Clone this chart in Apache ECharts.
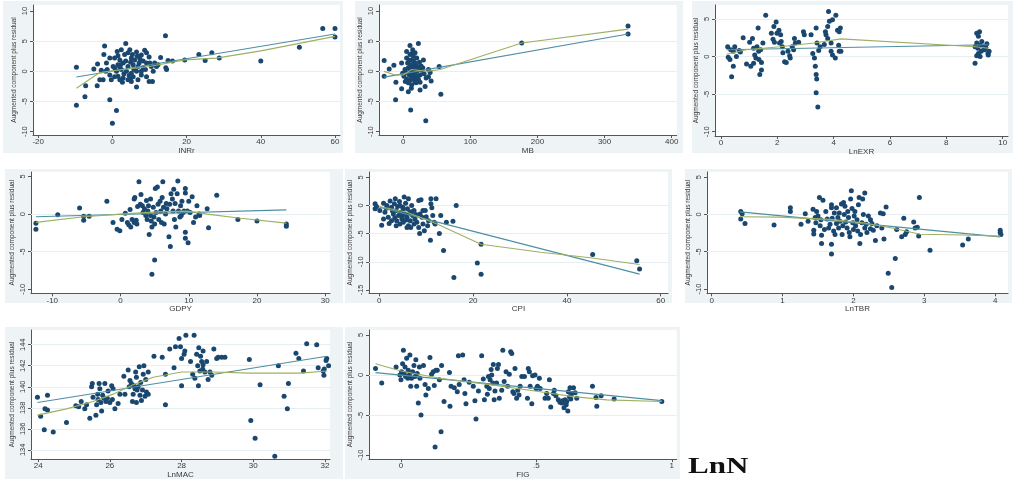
<!DOCTYPE html>
<html>
<head>
<meta charset="utf-8">
<script src="https://cdn.jsdelivr.net/npm/echarts@6/dist/echarts.min.js"></script>
<style>html,body{margin:0;padding:0;background:#fff}#c{width:1019px;height:480px}</style>
</head>
<body>
<div id="c"></div>
<script>
// ---------- DATA ----------
const panelNames = ['INRr', 'MB', 'LnEXR', 'GDPY', 'CPI', 'LnTBR', 'LnMAC', 'FIG'];
const yTitle = 'Augmented component plus residual';
const bottomNote = 'LnN';

const xTicks = [
  [-20, 0, 20, 40, 60],
  [0, 100, 200, 300, 400],
  [0, 2, 4, 6, 8, 10],
  [-10, 0, 10, 20, 30],
  [0, 20, 40, 60],
  [0, 1, 2, 3, 4],
  [24, 26, 28, 30, 32],
  [0, 0.5, 1]
];
const yTicks = [
  [-10, -5, 0, 5, 10],
  [-10, -5, 0, 5, 10],
  [-10, -5, 0, 5],
  [-10, -5, 0, 5],
  [-15, -10, -5, 0, 5],
  [-10, -5, 0, 5],
  [134, 136, 138, 140, 142, 144],
  [-10, -5, 0, 5]
];

const inrrPts = [[-9.7,0.67],[-9.7,-5.6],[-7.2,-2.4],[-7.4,-4.2],[-5,0.4],[-4,1.2],[-4.1,-2.4],[-3.4,-1.4],[-2.1,4.2],[-2.3,2.8],[-0.7,-4.7],[1.1,-6.5],[0,-8.6],[14.3,5.9],[15,1.8],[14.4,0.6],[14.6,0.3],[16.2,1.7],[13,2.3],[19.5,1.9],[23.3,2.8],[25,1.8],[26.8,3.1],[28.8,2.2],[40,1.7],[50.4,4.0],[56.7,7.1],[60,7.1],[60,5.7],[10.8,-1.7],
[3.6,4.6],[2.4,3.6],[1.3,3.3],[4.7,3.6],[6.5,3.2],[8.7,3.5],[7.8,2.7],[9.9,2.4],[9.2,1.4],[7.4,2.1],[5.1,2.2],[3.3,2.8],[2,1.9],[0.6,2.2],[-0.7,2.2],[-1.6,1.4],[-1.4,0.3],[-0.7,-0.6],[-2.5,-1.4],[0.2,0.8],[1.5,1.1],[2.9,1.4],[4.2,0.8],[5.6,1.1],[6.9,0.8],[8.3,0.6],[11,0],[11.9,0.8],[12.3,1.1],[11.4,1.4],[1.1,0],[2.4,0.3],[3.8,0],[5.1,-0.3],[6.5,0],[7.8,-0.6],[1.5,-0.8],[2.9,-1.1],[4.2,-1.4],[5.6,-0.9],[6.9,-1.4],[2.7,-1.8],[5.1,-1.7],[6.5,-2.6],[9.2,-0.9],[9.9,-1.7],[0.6,-0.9],[-0.3,-1.4],[2,0.6],[3.6,1.7],[4.9,1.5],[6,1.9],[7.2,1.4],[8.3,1.7],[10.1,1.4],[3.1,-0.4],[4.5,-0.7],[5.8,0.3],[2.2,1.1],[0.6,0.6],[-1.8,0],[-3,0.2],[9.2,3.1],[4.2,3.1],[1.5,2.6],[5.4,2.8],[6.7,2.5],[2,-1.4],[4.9,-1.2],[7.8,0],[8.9,0.3],[10.5,0.8]];
const inrrFit = [[-9.7,-0.94],[60,6.2]];
const inrrLowess = [[-9.7,-2.8],[-3.4,-0.2],[0,0.1],[10,0.8],[19.5,1.9],[28,2.2],[40,3.4],[60,5.8]];

const mbPts = [[-28.5,1.8],[-28.5,-0.8],[-21,0.4],[-14,1],[-11.5,-4.7],[-11,-1.8],[-2.5,-2.9],[-2.5,1.4],[7.5,-3.4],[11,-6.4],[22.5,4.6],[10,4.3],[5,3.3],[14,3.1],[33.5,-8.2],[25,-3.1],[32.5,-2.5],[40,-0.2],[41.5,-1.6],[53.5,0.8],[56,-3.8],[30,1.9],[29,0.6],[37.5,0.3],[37.5,-0.9],[176.5,4.7],[335,7.5],[335,6.2],
[5,2.2],[10,2.8],[12.5,1.9],[15,2.5],[17.5,1.4],[11,1.1],[7.5,0.6],[12.5,0.3],[17.5,0.8],[20,0],[15,-0.4],[9,-0.6],[4,-0.2],[1,-0.8],[5,-1.3],[11,-1.4],[16,-1.1],[22.5,-1.3],[19,-1.9],[12.5,-2.2],[7.5,-1.9],[25,-0.6],[27.5,0.2],[21,0.8],[24,1.5],[14,3.6],[17.5,3.1],[20,2.2],[2.5,0.3],[-1,-0.3],[6.5,1.4],[10,0],[14,0.6],[16,0.2],[19,-0.7],[23,0.4],[31,-0.4],[34,-1.1],[11.5,-0.9],[17.5,-1.7],[25,-1.8],[3,-1.7],[12,-2.8],[15,1.7],[8.5,1.9],[26.5,0.9],[20,-0.8]];
const mbFit = [[-28.5,-0.96],[335,6.2]];
const mbLowess = [[-28.5,0],[-12.5,-0.6],[0,-0.6],[12.5,0.3],[35,0],[55,0.3],[176.5,4.7],[335,7.0]];

const exrPts = [[0.24,1.3],[0.26,-0.1],[0.32,-0.4],[0.38,-2.7],[0.44,-1.3],[0.35,0.9],[0.49,1.3],[0.44,0.7],[0.55,0],[0.65,0.8],[0.69,0.6],[0.79,2.5],[0.91,-1],[1.02,1.9],[1.06,-1.3],[1.12,2.4],[1.16,1.1],[1.16,-0.9],[1.2,0.2],[1.24,-0.2],[1.28,1.3],[1.32,3.8],[1.34,0.7],[1.35,-0.4],[1.38,-2.4],[1.41,0.9],[1.44,-0.8],[1.44,-1.8],[1.49,1.8],[1.59,5.5],[1.79,3.1],[1.85,2.3],[1.88,4],[1.9,1.9],[1.96,4.6],[1.99,3.1],[2.06,3.5],[2.08,1.8],[2.12,2.9],[2.14,2],[2.18,1.3],[2.2,0.5],[2.26,-0.7],[2.32,-0.8],[2.38,0.7],[2.44,0.1],[2.46,-0.2],[2.53,1.3],[2.58,0.9],[2.61,2.4],[2.64,1.8],[2.76,1.9],[2.93,3.3],[2.96,2.9],[3.2,2.9],[3.26,0.4],[3.32,-0.2],[3.35,-1.3],[3.38,-2.4],[3.4,-3],[3.38,-4.8],[3.44,-6.7],[3.38,3.8],[3.41,1.8],[3.47,0.8],[3.52,1.3],[3.67,1.6],[3.73,2.9],[3.79,4],[3.82,6],[3.85,4.7],[3.91,1.8],[3.96,4.9],[3.91,0.7],[3.96,0.2],[4.06,-0.2],[4.08,5.5],[4.14,3.5],[4.18,1.5],[4.2,3.3],[4.24,3.8],[4.2,0.7],[4.26,0.7],[3.79,2.4],[3.71,3.3],
[9.02,-0.9],[9.08,0.1],[9.08,3.1],[9.14,2.7],[9.18,3.3],[9.08,1.8],[9.12,1.1],[9.14,0.4],[9.2,0],[9.24,0.7],[9.26,2],[9.32,1.3],[9.36,0.9],[9.4,1.2],[9.44,1.7],[9.48,0.4],[9.49,0.2],[9.52,0.7],[9.02,1.3],[9.2,1.5]];
const exrFit = [[0.2,0.9],[9.5,1.57]];
const exrLowess = [[0.2,0.3],[0.9,0.9],[2.1,1.3],[3.3,1.8],[4.26,2.35],[9.02,1.3],[9.5,1.1]];

const gdpPts = [[-12.4,-1.2],[-12.4,-2],[-9.2,-0.1],[-6,0.8],[-5.4,-0.3],[-5.4,-0.8],[-4.6,-0.3],[-2,1.7],[-1.1,-1.1],[-0.5,-2],[-0.1,-2.2],[0.2,-0.7],[0.7,0.1],[1,-1.1],[1.2,-1.4],[1.5,-1.7],[1.4,0.6],[1.7,-0.7],[2,-1.1],[2,2],[2.1,2.2],[2.3,-0.8],[2.4,-1.3],[2.7,4.3],[2.5,1],[2.9,1.3],[3,2.6],[3.2,1.1],[3.3,0.2],[3.5,0.7],[3.7,-0.2],[3.8,1.8],[3.9,-0.7],[4,0.4],[4.1,1.1],[4.2,-2.7],[4.4,2],[4.4,-0.2],[4.5,-0.9],[4.6,-1.7],[4.6,-8],[4.8,0.9],[4.9,-0.4],[5,-1.3],[5,-6.1],[5.1,3.4],[5.2,0.2],[5.4,3.6],[5.5,1.3],[5.6,-0.7],[5.8,1.7],[5.9,0.4],[6,-1.1],[6.1,2.2],[6.2,4.3],[6.3,0.9],[6.4,-1.3],[6.6,0],[6.7,1.4],[6.8,0.7],[7.1,-3],[7.2,1.3],[7.3,-4.3],[7.4,2.7],[7.6,2],[7.7,0.4],[7.8,3.3],[7.9,-0.7],[8,1.4],[8.1,-1.7],[8.3,2.7],[8.4,4.4],[8.5,0.4],[8.7,-0.4],[8.8,1.1],[8.9,-0.2],[9,1.7],[9.2,0.2],[9.3,0.4],[9.5,3.4],[9.5,2.8],[9.5,-2.4],[9.5,-3.2],[9.8,0.4],[9.9,-3.8],[10,1.7],[10.2,0.2],[10.5,2.3],[10.7,-1.1],[11,-0.4],[11.2,1.1],[11.5,0],[11.6,-0.2],[12.7,0.7],[12.9,-1.8],[14.1,2.5],[17.2,-0.7],[20,-0.9],[24.3,-1.3],[24.3,-1.6]];
const gdpFit = [[-12.4,-0.35],[24.3,0.57]];
const gdpLowess = [[-12.4,-1.1],[-5.4,-0.35],[0,0],[5.4,0.3],[9.8,0.4],[12.7,0],[17.6,-0.55],[24.3,-1.2]];

const cpiPts = [[-0.9,0.3],[-0.9,-0.6],[-0.6,-0.2],[0.1,-0.9],[0.5,-3.5],[0.9,0.4],[1.2,-1.2],[1.6,0],[1.9,-2.1],[2.1,-3.2],[2.3,0.8],[2.6,-0.3],[3,-1.5],[3.2,0.3],[3.4,1.2],[3.6,-0.9],[3.7,-2.7],[3.9,-0.2],[4.1,-1.8],[4.3,0.7],[4.4,-3.3],[4.6,-1.2],[4.8,-2.4],[5,-0.3],[5.1,-3],[5.3,1.5],[5.5,-1.5],[5.6,0.4],[5.9,-2.1],[6,-0.6],[6.2,1.2],[6.2,-3.6],[6.4,-1.4],[6.6,-2.7],[6.7,-3.9],[6.9,0],[7.1,-1.8],[7.4,-0.9],[7.6,-2.4],[8,-3],[8.4,0.9],[8.6,-5],[8.7,-1.5],[8.9,1],[9.1,-2.1],[9.3,-3.3],[9.6,-4.5],[9.8,-0.9],[10,-2],[10.3,-3.6],[10.5,-2.7],[10.9,-6.2],[11,1.2],[11,0.3],[11.2,-0.4],[11.4,-1.8],[11.7,-3],[11.9,-3.3],[12.1,1.2],[12.8,-5],[13.1,-1.8],[13.7,-8],[14.3,-3],[15.7,-2.8],[15.9,-12.8],[16.4,0],[20.9,-10.2],[21.7,-6.9],[21.7,-12.2],[45.5,-8.7],[54.9,-9.8],[55.5,-11.3],
[0.9,-2.4],[2.6,-2.7],[3.6,-3.6],[5.1,-0.6],[4.4,0],[7.4,-3.3],[9.3,-0.9],[8.4,-3.9],[5.9,-3.9],[1.5,-0.5],[2.8,-1],[4.9,-1.9],[6.8,-1.1],[3.3,-2.2],[7.8,-1.6],[5.7,-2.6]];
const cpiFit = [[0,-0.3],[55.5,-12.2]];
const cpiLowess = [[0,-0.2],[5.9,-1.2],[12.3,-3.3],[21.7,-6.9],[34.4,-8.3],[45,-9.3],[55.5,-10.5]];

const tbrPts = [[0.41,0.4],[0.43,0.1],[0.41,-0.6],[0.47,-1.2],[0.88,-1.4],[1.11,0.9],[1.11,0.4],[1.26,-1.3],[1.32,0.1],[1.36,-0.9],[1.43,0.7],[1.44,-2.1],[1.44,-2.6],[1.46,-0.4],[1.47,-1.1],[1.48,0.4],[1.5,-0.2],[1.52,2.3],[1.53,-1.5],[1.54,-0.7],[1.55,-3.9],[1.57,1.9],[1.55,-2.8],[1.59,-2],[1.61,0.4],[1.63,-0.6],[1.65,-1.8],[1.67,-1.3],[1.69,0.9],[1.69,1.3],[1.69,-4],[1.69,-5.3],[1.7,-0.5],[1.72,-2.2],[1.73,0.2],[1.74,-2.7],[1.76,-1.2],[1.76,0.9],[1.78,-0.4],[1.79,-1.8],[1.8,0.2],[1.81,-0.9],[1.83,1.4],[1.84,-2.7],[1.85,-1.5],[1.86,1.6],[1.87,0],[1.88,1.1],[1.89,-1],[1.91,-1.8],[1.92,0.4],[1.93,-0.4],[1.94,-2.4],[1.95,-3],[1.96,2.1],[1.97,3.2],[1.98,0.8],[1.99,-1.1],[2,-2],[2.01,-0.2],[2.02,0.4],[2.03,-1.5],[2.05,-0.7],[2.06,-2.2],[2.07,1.3],[2.08,2.3],[2.09,-3.9],[2.1,-2.7],[2.12,-1.1],[2.13,2.1],[2.14,0],[2.16,-1.8],[2.16,2.9],[2.18,-1.3],[2.19,-2.4],[2.21,-0.2],[2.24,-1.9],[2.24,-0.7],[2.26,-1.2],[2.28,-2.1],[2.31,-3.5],[2.33,-1.5],[2.38,0.2],[2.4,-1.8],[2.42,0.1],[2.43,-3.3],[2.46,1],[2.49,-7.9],[2.54,-9.8],[2.59,-5.9],[2.61,-2],[2.68,-3],[2.71,-0.5],[2.73,-2.7],[2.75,-2.3],[2.85,-1],[2.87,-1.8],[2.9,-1.7],[2.92,-2.9],[2.93,2.3],[3.08,-4.8],[3.54,-4.1],[3.62,-3.3],[4.07,-2.1],[4.07,-2.4],[4.08,-2.7]];
const tbrFit = [[0.4,0.35],[4.07,-3.0]];
const tbrLowess = [[0.4,-0.3],[0.96,-0.35],[1.67,-0.65],[2.14,-1.1],[2.56,-1.85],[2.94,-2.65],[3.55,-2.75],[4.07,-2.9]];

const macPts = [[23.98,139.0],[24.07,137.2],[24.17,135.9],[24.19,137.9],[24.26,137.8],[24.26,139.2],[24.42,135.7],[24.79,136.6],[25.05,138.2],[25.13,138.1],[25.2,138.6],[25.3,137.9],[25.35,138.3],[25.44,137],[25.49,140],[25.51,140.3],[25.53,139],[25.61,137.3],[25.63,138.3],[25.66,139.3],[25.67,138.8],[25.7,140.3],[25.72,139.8],[25.75,138.5],[25.77,137.7],[25.8,139.2],[25.83,138.9],[25.86,140.3],[25.89,138.6],[25.93,138.9],[25.95,139.6],[26,138.5],[26.05,140.1],[26.07,138.8],[26.09,139.8],[26.14,137.9],[26.23,138.4],[26.28,139.3],[26.39,141],[26.42,139.3],[26.51,141.6],[26.54,140],[26.56,140.6],[26.6,140.3],[26.63,138.6],[26.65,139.3],[26.67,140.1],[26.7,139.8],[26.72,141.4],[26.74,140.9],[26.74,138.5],[26.76,139.7],[26.79,140],[26.82,141.9],[26.84,139.2],[26.86,140.4],[26.88,138.7],[26.91,139.7],[26.93,141.2],[26.95,142],[26.98,139.1],[27,140.7],[27.02,139.5],[27.07,141.4],[27.07,139.3],[27.23,142.9],[27.46,142.8],[27.55,138.3],[27.55,141.2],[27.67,143.6],[27.79,141.8],[27.83,143.8],[27.93,144.6],[27.97,143.8],[28,140.1],[28,142.7],[28.07,143.1],[28.09,143.4],[28.12,144.9],[28.25,142.4],[28.31,141.2],[28.35,144.9],[28.37,140.8],[28.42,143.1],[28.45,142],[28.47,140.1],[28.48,143.7],[28.51,141.5],[28.53,142.9],[28.56,142.4],[28.59,141.7],[28.6,143.4],[28.6,142.1],[28.65,141.4],[28.7,142.4],[28.74,140.7],[28.79,141.4],[28.84,141.1],[28.9,143.6],[28.98,142.7],[29.02,142.8],[29.12,142.8],[29.21,142.8],[29.89,142.6],[29.93,136.8],[30.05,135.1],[30.19,140.2],[30.6,133.4],[30.7,142],[30.86,139.1],[30.95,137.9],[30.98,140.3],[31.19,143.2],[31.27,142.7],[31.4,141.5],[31.49,144.1],[31.77,144],[31.81,141.8],[31.95,141.5],[31.97,141.1],[32.03,142.5],[32.05,142.7],[32.1,142],[31.98,141.7]];
const macFit = [[23.98,138.5],[32.05,142.9]];
const macLowess = [[23.98,137.3],[24.79,137.9],[25.53,138.6],[26.09,139.3],[26.65,140.2],[27.21,140.9],[28,141.4],[28.88,141.4],[29.9,141.3],[31.3,141.3],[32.05,141.5]];

const figPts = [[-0.094,0.8],[-0.071,-1],[-0.018,1],[0,-0.6],[-0.004,0],[0.002,0.4],[0.006,1.4],[0.009,3.1],[0.012,0.2],[0.015,1],[0.017,-0.2],[0.021,2.1],[0.025,-0.4],[0.027,0.6],[0.031,0],[0.033,2.5],[0.036,-1.4],[0.039,-0.4],[0.043,0.4],[0.048,1.2],[0.052,-0.2],[0.055,1.9],[0.058,-1.4],[0.06,0.2],[0.064,-3.5],[0.068,1],[0.07,-0.4],[0.074,-5],[0.083,1.2],[0.089,-1.2],[0.092,-2.5],[0.101,-1.7],[0.107,2.2],[0.113,0.1],[0.119,0.4],[0.123,-1.3],[0.126,-9],[0.129,0.6],[0.134,0.6],[0.142,-0.6],[0.148,-7.1],[0.15,1.2],[0.159,-3.3],[0.179,0.3],[0.181,-3.9],[0.185,-1.4],[0.197,-1.6],[0.208,-2.1],[0.212,2.4],[0.215,-1.2],[0.228,2.5],[0.233,-0.6],[0.236,-2.3],[0.24,-3.6],[0.252,-0.9],[0.267,-1.4],[0.273,-3.2],[0.277,-5.5],[0.286,-2],[0.298,2.4],[0.304,-0.5],[0.308,-3.1],[0.317,-1.4],[0.319,-2.4],[0.323,-0.2],[0.326,-1.7],[0.329,-0.6],[0.333,0.7],[0.335,0],[0.339,-1],[0.341,1.3],[0.344,-3.1],[0.347,-2],[0.353,-1],[0.356,0.8],[0.36,1.3],[0.363,-2.9],[0.372,-1.9],[0.376,3.1],[0.381,-0.8],[0.388,0.4],[0.394,-1.4],[0.4,0.1],[0.405,2.9],[0.409,2.7],[0.413,-2.1],[0.417,-2.3],[0.421,0.8],[0.427,-2.9],[0.431,-1.9],[0.436,-2.5],[0.44,-1.4],[0.446,-0.2],[0.456,-0.2],[0.467,-2.9],[0.47,0.8],[0.474,0.4],[0.477,-1.4],[0.483,-3.6],[0.486,-0.1],[0.495,0],[0.499,-1.7],[0.504,-1.4],[0.511,-0.4],[0.514,-1.7],[0.532,-2.9],[0.538,-2.3],[0.544,-2.9],[0.548,-0.6],[0.553,-4],[0.563,-2.3],[0.566,-1.9],[0.572,-2.6],[0.581,-3.1],[0.587,-3.4],[0.594,-3.5],[0.597,-3.2],[0.602,-4.1],[0.606,-3.1],[0.61,-3.7],[0.612,-3.3],[0.616,-4.5],[0.618,-2.1],[0.622,-2.7],[0.624,-1.6],[0.627,-3],[0.631,-2.3],[0.637,-1.6],[0.643,-2.2],[0.649,-2.9],[0.707,-1.4],[0.72,-2.8],[0.723,-3.9],[0.739,-2.6],[0.787,-3],[0.963,-3.3]];
const figFit = [[-0.094,0.3],[0.963,-3.2]];
const figLowess = [[-0.094,1.4],[0,0.5],[0.144,-0.4],[0.329,-1.2],[0.514,-2.1],[0.637,-2.7],[0.76,-3.1],[0.963,-3.3]];

const allPts = [inrrPts, mbPts, exrPts, gdpPts, cpiPts, tbrPts, macPts, figPts];
const allFit = [inrrFit, mbFit, exrFit, gdpFit, cpiFit, tbrFit, macFit, figFit];
const allLowess = [inrrLowess, mbLowess, exrLowess, gdpLowess, cpiLowess, tbrLowess, macLowess, figLowess];

// ---------- LAYOUT (pixels) ----------
const layout = [
  {left:33,  top:5,   w:307,   h:130,   xr:[-21.4,61.35],   yr:[-10.55,11],    box:[3,1,340,152],   ng:6},
  {left:379, top:5,   w:297.7, h:130,   xr:[-36.2,407.5],   yr:[-10.55,11],    box:[355,1,328,152], ng:6},
  {left:715, top:5,   w:293,   h:131,   xr:[-0.21,10.19],   yr:[-10.57,6.86],  box:[692,1,321,152], ng:6},
  {left:31,  top:172, w:299,   h:121.3, xr:[-13.12,30.7],   yr:[-10.53,5.6],   box:[5,169,338,134], ng:4},
  {left:369, top:172, w:299,   h:121.3, xr:[-2.2,61.56],    yr:[-15.6,5.94],   box:[345,169,327,134], ng:4},
  {left:707, top:172, w:301,   h:121.3, xr:[-0.066,4.18],   yr:[-10.58,5.71],  box:[685,169,327,134], ng:4},
  {left:31,  top:330, w:299,   h:131.7, xr:[23.8,32.14],    yr:[133.12,145.4], box:[5,327,338,152], ng:6},
  {left:369, top:330, w:307.7, h:130,   xr:[-0.118,1.018],  yr:[-10.5,5.62],   box:[345,327,335,152], ng:6}
];

const NAVY = '#1a476f', FITC = '#4f8fa2', LOWC = '#9db063', AXC = '#555', TXT = '#3a3a3a';
const FONT = '"Liberation Sans", Arial, sans-serif';

const grids = [], xAxes = [], yAxes = [], series = [], graphics = [];
layout.forEach((L, i) => {
  graphics.push({type:'rect', z:-100, silent:true,
    shape:{x:L.box[0], y:L.box[1], width:L.box[2], height:L.box[3]},
    style:{fill:'#eef3f5'}});
  grids.push({left:L.left, top:L.top, width:L.w, height:L.h, show:true,
    backgroundColor:'#ffffff', borderWidth:0, containLabel:false});
  const xt = xTicks[i], yt = yTicks[i];
  xAxes.push({type:'value', gridIndex:i, min:L.xr[0], max:L.xr[1],
    name:panelNames[i], nameLocation:'middle', nameGap:L.ng,
    nameTextStyle:{fontSize:8, color:TXT, fontFamily:FONT, verticalAlign:'top'},
    axisLine:{show:true, onZero:false, lineStyle:{color:AXC, width:1}},
    axisTick:{show:true, customValues:xt, length:3, lineStyle:{color:AXC}},
    axisLabel:{customValues:xt, fontSize:8, color:TXT, margin:3, fontFamily:FONT,
      formatter:v => (i === 7 && v === 0.5) ? '.5' : String(v)},
    splitLine:{show:false}});
  yAxes.push({type:'value', gridIndex:i, min:L.yr[0], max:L.yr[1],
    name:yTitle, nameLocation:'middle', nameGap:15, nameRotate:90,
    nameTextStyle:{fontSize:6.5, color:TXT, fontFamily:FONT},
    axisLine:{show:true, onZero:false, lineStyle:{color:AXC, width:1}},
    axisTick:{show:true, customValues:yt, length:3, lineStyle:{color:AXC}},
    axisLabel:{customValues:yt, fontSize:7.5, color:TXT, margin:4, rotate:90, fontFamily:FONT},
    splitLine:{show:false}});
  const span = L.yr[1] - L.yr[0];
  const gl = yt.filter(v => v > L.yr[0] + 0.05*span && v < L.yr[1] - 0.05*span);
  series.push({type:'line', xAxisIndex:i, yAxisIndex:i, data:[], z:1, silent:true,
    markLine:{silent:true, z:1, symbol:'none', label:{show:false}, animation:false,
      lineStyle:{color:'#e6eef1', width:1, type:'solid'},
      data:gl.map(v => ({yAxis:v}))}});
  series.push({type:'scatter', xAxisIndex:i, yAxisIndex:i, data:allPts[i], z:3,
    symbol:'circle', symbolSize:5, itemStyle:{color:NAVY, opacity:1}});
  series.push({type:'line', xAxisIndex:i, yAxisIndex:i, data:allFit[i], z:4,
    showSymbol:false, lineStyle:{color:FITC, width:1.1}});
  series.push({type:'line', xAxisIndex:i, yAxisIndex:i, data:allLowess[i], z:4,
    showSymbol:false, lineStyle:{color:LOWC, width:1.1}});
});
graphics.push({type:'text', left:688, top:456, z:10, scaleX:1.35,
  style:{text:bottomNote, font:'bold 23px "Liberation Serif", "Times New Roman", serif', fill:'#111'}});

const chart = echarts.init(document.getElementById('c'), null, {renderer:'canvas'});
chart.setOption({
  animation:false,
  backgroundColor:'#ffffff',
  graphic:graphics,
  grid:grids, xAxis:xAxes, yAxis:yAxes, series:series
});
</script>
</body>
</html>
